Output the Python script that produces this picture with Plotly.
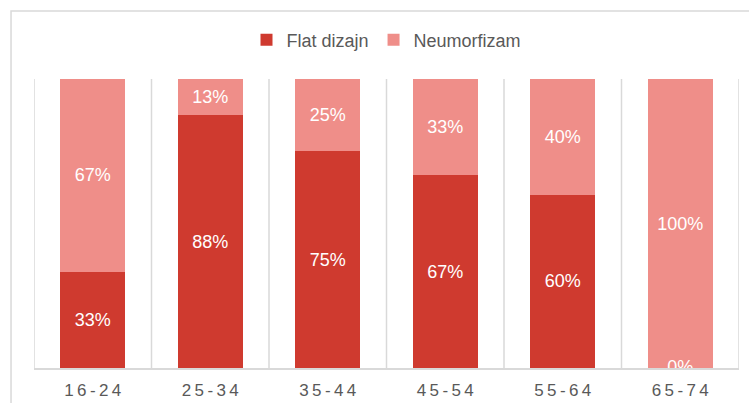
import plotly.graph_objects as go

# Age groups and share of respondents preferring each design style (%)
age_groups = ["16-24", "25-34", "35-44", "45-54", "55-64", "65-74"]
flat_share = [33.33, 87.5, 75.0, 66.67, 60.0, 0.0]
neumorph_share = [66.67, 12.5, 25.0, 33.33, 40.0, 100.0]
tick_labels = ["1\u20096\u2009-\u20092\u20094", "2\u20095\u2009-\u20093\u20094", "3\u20095\u2009-\u20094\u20094",
               "4\u20095\u2009-\u20095\u20094", "5\u20095\u2009-\u20096\u20094", "6\u20095\u2009-\u20097\u20094"]

FLAT_COLOR = "#CF3A2F"
NEU_COLOR = "#EF8E89"
GRID = "#D9D9D9"
TEXT = "#595959"
LABEL_FONT = dict(color="white", size=18, family="Liberation Sans, Arial")

fig = go.Figure()

fig.add_trace(go.Bar(
    name="Flat dizajn", x=age_groups, y=flat_share,
    marker=dict(color=FLAT_COLOR, line=dict(width=0)),
    texttemplate="%{y:.0f}%", textposition="inside", insidetextanchor="middle",
    textfont=LABEL_FONT,
    hovertemplate="%{x}: %{y:.0f}%<extra>Flat dizajn</extra>",
))
fig.add_trace(go.Bar(
    name="Neumorfizam", x=age_groups, y=neumorph_share,
    marker=dict(color=NEU_COLOR, line=dict(width=0)),
    texttemplate="%{y:.0f}%", textposition="inside", insidetextanchor="middle",
    textfont=LABEL_FONT,
    hovertemplate="%{x}: %{y:.0f}%<extra>Neumorfizam</extra>",
))

# Zero-height segments still get their label, sitting on the baseline
zero_x = [g for g, v in zip(age_groups, flat_share) if v == 0]
zero_y = [v for v in flat_share if v == 0]
fig.add_trace(go.Scatter(
    x=zero_x, y=zero_y, mode="text",
    text=[f"{v:.0f}%" for v in zero_y], textposition="middle center",
    textfont=LABEL_FONT,
    showlegend=False, hoverinfo="skip", cliponaxis=True,
))

# Separators between categories
shapes = []
for i in range(len(age_groups) + 1):
    shapes.append(dict(type="line", xref="x", yref="paper", x0=i - 0.5, x1=i - 0.5,
                       y0=0, y1=1, line=dict(color=GRID, width=1.5), layer="below"))
# Outer chart frame
shapes.append(dict(type="rect", xref="paper", yref="paper", x0=-0.0326, x1=1.05,
                   y0=-0.3, y1=1.235, line=dict(color=GRID, width=1.5), layer="below"))

fig.update_layout(
    width=749, height=403,
    margin=dict(l=34, r=10, t=79, b=35),
    paper_bgcolor="white", plot_bgcolor="white",
    barmode="stack", bargap=0.45,
    font=dict(family="Liberation Sans, Arial", color=TEXT),
    legend=dict(orientation="h", x=0.5, xanchor="center", y=1.135, yanchor="middle",
                font=dict(size=18, color=TEXT), itemwidth=30, traceorder="normal"),
    shapes=shapes,
    xaxis=dict(tickmode="array", tickvals=age_groups, ticktext=tick_labels,
               showline=True, linecolor=GRID, linewidth=1.5, showgrid=False,
               ticks="", tickfont=dict(size=17, color=TEXT), ticklabelstandoff=6,
               automargin=False, range=[-0.5, 5.5]),
    yaxis=dict(range=[0, 100], visible=False, automargin=False),
)

fig.write_html("out.html")
